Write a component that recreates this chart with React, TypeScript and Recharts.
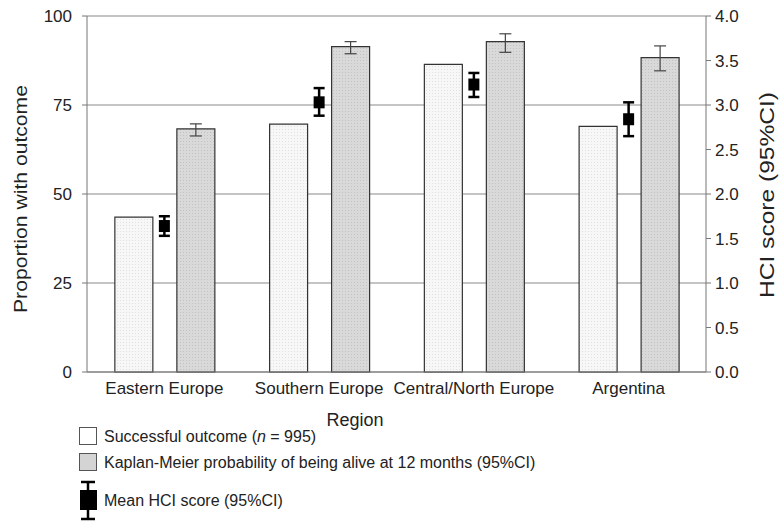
import {
  ComposedChart, Bar, Scatter, XAxis, YAxis, CartesianGrid, ErrorBar,
} from 'recharts';

const regions = ['Eastern Europe', 'Southern Europe', 'Central/North Europe', 'Argentina'];
const successPct = [43.5, 69.6, 86.4, 69.0];
const kmPct = [68.3, 91.4, 92.8, 88.3];
const kmLow = [66.3, 89.4, 89.8, 84.6];
const kmHigh = [69.7, 92.8, 95.0, 91.6];
const hciMean = [1.64, 3.03, 3.23, 2.84];
const hciLow = [1.53, 2.88, 3.09, 2.65];
const hciHigh = [1.75, 3.19, 3.36, 3.03];
const leftTicks = [0, 25, 50, 75, 100];
const rightTicks = [0, 0.5, 1, 1.5, 2, 2.5, 3, 3.5, 4];

const FONT = '"Liberation Sans", Arial, sans-serif';

const data = regions.map((region, i) => ({
  region,
  success: successPct[i],
  km: kmPct[i],
  kmErr: [kmPct[i] - kmLow[i], kmHigh[i] - kmPct[i]],
  hci: hciMean[i],
  hciErr: [hciMean[i] - hciLow[i], hciHigh[i] - hciMean[i]],
}));

const HciMarker = (props: any) => {
  const { cx, cy } = props;
  if (cx == null || cy == null) return null;
  return <rect x={cx - 5.5} y={cy - 6} width={11} height={12} fill="#000" />;
};

export default function App() {
  const tickStyle = { fill: '#222', fontSize: 17, fontFamily: FONT };
  return (
    <div style={{ position: 'absolute', left: 0, top: 0, width: 779, height: 521, background: '#fff' }}>
      <ComposedChart
        width={779} height={521} data={data}
        margin={{ top: 16, right: 0, left: 0, bottom: 119 }}
        barCategoryGap="18%" barGap={24}
      >
        <defs>
          <pattern id="dotsLight" width={3} height={3} patternUnits="userSpaceOnUse">
            <rect width={3} height={3} fill="#f7f7f7" />
            <rect width={1} height={1} fill="#e0e0e0" />
          </pattern>
          <pattern id="dotsGrey" width={3} height={3} patternUnits="userSpaceOnUse">
            <rect width={3} height={3} fill="#d9d9d9" />
            <rect width={1} height={1} fill="#c2c2c2" />
          </pattern>
        </defs>
        <CartesianGrid yAxisId="left" vertical={false} stroke="#8a8a8a" strokeWidth={1.2} />
        <XAxis
          dataKey="region" height={30} tickLine={false} tickMargin={4}
          stroke="#777" tick={tickStyle} interval={0}
        />
        <YAxis
          yAxisId="left" domain={[0, 100]} ticks={leftTicks} width={87}
          tickSize={5} tickMargin={10} stroke="#777" tick={tickStyle}
        />
        <YAxis
          yAxisId="right" orientation="right" domain={[0, 4]} ticks={rightTicks} width={73}
          tickSize={5} tickMargin={4} stroke="#777" tick={tickStyle}
          tickFormatter={(v: number) => v.toFixed(1)}
        />
        <Bar
          yAxisId="left" dataKey="success" fill="url(#dotsLight)"
          stroke="#333" strokeWidth={1.2} isAnimationActive={false}
        />
        <Bar
          yAxisId="left" dataKey="km" fill="url(#dotsGrey)"
          stroke="#333" strokeWidth={1.2} isAnimationActive={false}
        >
          <ErrorBar dataKey="kmErr" direction="y" width={6} stroke="#444" strokeWidth={1.2} />
        </Bar>
        <Scatter
          yAxisId="right" dataKey="hci" shape={HciMarker} isAnimationActive={false}
        >
          <ErrorBar dataKey="hciErr" direction="y" width={5.5} stroke="#000" strokeWidth={2.5} />
        </Scatter>
      </ComposedChart>

      <svg
        width={779} height={521}
        style={{ position: 'absolute', left: 0, top: 0, pointerEvents: 'none' }}
        fontFamily={FONT} fill="#222"
      >
        <text
          x={20} y={199} transform="rotate(-90 20 199)" textAnchor="middle"
          dominantBaseline="central" fontSize={19} textLength={228} lengthAdjust="spacingAndGlyphs"
        >
          Proportion with outcome
        </text>
        <text
          x={767} y={195} transform="rotate(-90 767 195)" textAnchor="middle"
          dominantBaseline="central" fontSize={20} textLength={206} lengthAdjust="spacingAndGlyphs"
        >
          HCI score (95%CI)
        </text>
        <text x={355} y={426} textAnchor="middle" fontSize={18}>Region</text>

        <rect x={79.5} y={427.5} width={17} height={17} fill="#fff" stroke="#555" />
        <text x={104} y={442} fontSize={16}>
          Successful outcome (<tspan fontStyle="italic">n</tspan> = 995)
        </text>
        <rect x={79.5} y={453.5} width={17} height={17} fill="#d4d4d4" stroke="#555" />
        <text x={104} y={468} fontSize={16}>
          Kaplan-Meier probability of being alive at 12 months (95%CI)
        </text>
        <line x1={88} y1={482} x2={88} y2={519} stroke="#000" strokeWidth={2.5} />
        <line x1={81} y1={482} x2={95} y2={482} stroke="#000" strokeWidth={2.5} />
        <line x1={81} y1={519} x2={95} y2={519} stroke="#000" strokeWidth={2.5} />
        <rect x={80} y={490} width={17} height={20} fill="#000" />
        <text x={104} y={506} fontSize={16}>Mean HCI score (95%CI)</text>
      </svg>
    </div>
  );
}
